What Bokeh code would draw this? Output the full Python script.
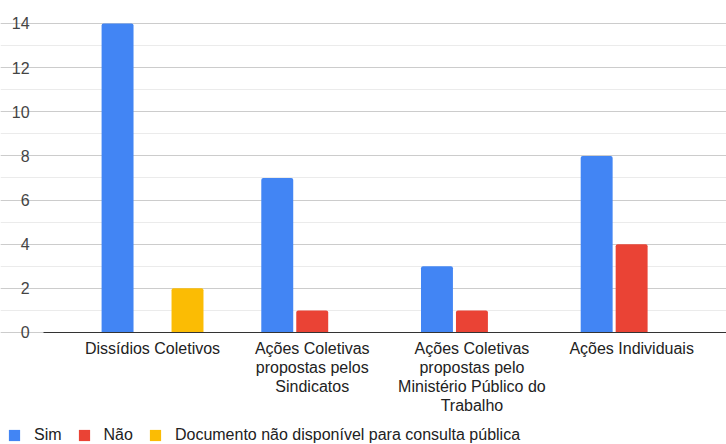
from bokeh.plotting import figure
from bokeh.models import (ColumnDataSource, Range1d, FixedTicker, Legend, LegendItem,
                          LinearAxis, Grid)
from bokeh.embed import file_html
from bokeh.resources import INLINE

categories = [
    "Dissídios Coletivos",
    "Ações Coletivas\npropostas pelos\nSindicatos",
    "Ações Coletivas\npropostas pelo\nMinistério Público do\nTrabalho",
    "Ações Individuais",
]
sim = [14, 7, 3, 8]
nao = [0, 1, 1, 4]
doc = [2, 0, 0, 0]
series_names = ["Sim", "Não", "Documento não disponível para consulta pública"]
colors = ["#4285F4", "#EA4335", "#FBBC04"]
y_ticks = [0, 2, 4, 6, 8, 10, 12, 14]
y_minor = list(range(0, 15))

FONT = "Liberation Sans"
xs = list(range(len(categories)))

# layout constants (data units)
X_START, X_END = -0.952, 3.594
AXIS_X = -0.6825
Y_START, Y_END = -5.075, 15.04

p = figure(width=726, height=444, output_backend="svg", toolbar_location=None,
           x_axis_location=None, y_axis_location=None,
           x_range=Range1d(X_START, X_END), y_range=Range1d(Y_START, Y_END),
           min_border_left=0, min_border_right=0, min_border_top=0, min_border_bottom=0)
p.outline_line_color = None
p.background_fill_color = "white"
p.grid.grid_line_color = None

yticker = FixedTicker(ticks=y_ticks, minor_ticks=y_minor)
grid = Grid(dimension=1, ticker=yticker, bounds=(AXIS_X, X_END),
            grid_line_color="#cccccc", minor_grid_line_color="#ebebeb")
p.add_layout(grid)

offsets = [-0.219, 0.0, 0.219]
renderers = []
for vals, off, col in zip([sim, nao, doc], offsets, colors):
    src = ColumnDataSource(dict(x=[x + off for x in xs], top=vals))
    r = p.vbar(x="x", top="top", bottom=0, width=0.2, source=src, fill_color=col,
               line_color=None, border_radius=(2, 2, 0, 0))
    renderers.append(r)

yaxis = LinearAxis(ticker=yticker, fixed_location=AXIS_X)
yaxis.axis_line_color = None
yaxis.major_tick_line_color = None
yaxis.minor_tick_line_color = None
yaxis.major_label_standoff = 8
yaxis.major_label_text_font = FONT
yaxis.major_label_text_font_size = "16px"
yaxis.major_label_text_color = "#444444"
p.add_layout(yaxis, "left")

xaxis = LinearAxis(ticker=FixedTicker(ticks=xs), fixed_location=0, bounds=(AXIS_X, X_END))
xaxis.major_label_overrides = {i: c for i, c in zip(xs, categories)}
xaxis.axis_line_color = "#333333"
xaxis.axis_line_width = 1
xaxis.major_tick_line_color = None
xaxis.minor_tick_line_color = None
xaxis.major_label_standoff = 2
xaxis.major_label_text_font = FONT
xaxis.major_label_text_font_size = "16px"
xaxis.major_label_text_color = "#222222"
xaxis.major_label_text_line_height = 1.1
p.add_layout(xaxis, "below")

legend = Legend(items=[LegendItem(label=n, renderers=[r]) for n, r in zip(series_names, renderers)],
                orientation="horizontal", location=(7, 0),
                border_line_color=None, background_fill_alpha=0,
                glyph_width=14, glyph_height=14, label_height=14, label_standoff=13, spacing=15,
                padding=0, margin=0,
                label_text_font=FONT, label_text_font_size="16px", label_text_color="#222222")
p.add_layout(legend, "center")

open("out.html", "w").write(file_html(p, INLINE))
